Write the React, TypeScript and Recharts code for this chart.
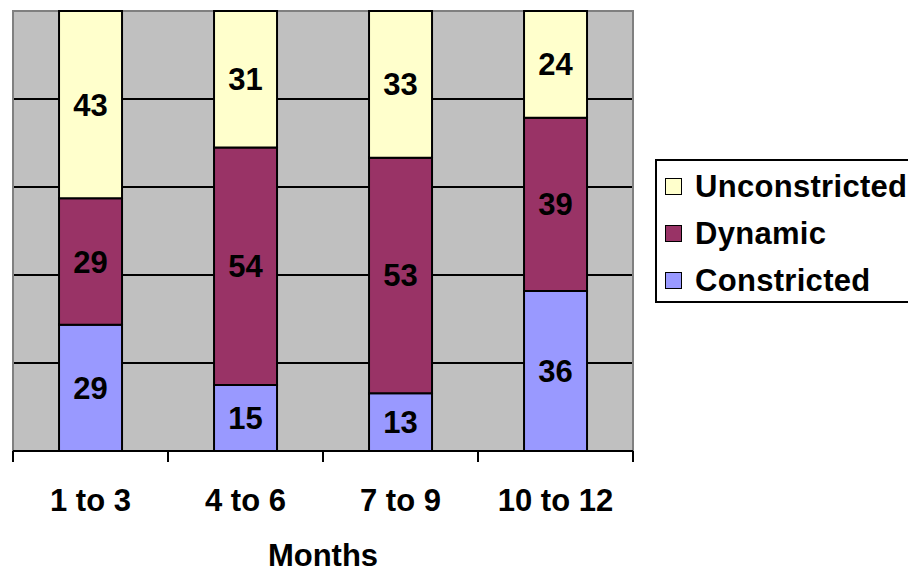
import React from 'react';
import { BarChart, Bar, XAxis, YAxis, CartesianGrid, LabelList, Legend, ReferenceArea } from 'recharts';

const categories = ['1 to 3', '4 to 6', '7 to 9', '10 to 12'];
const constricted = [29, 15, 13, 36];
const dynamic = [29, 54, 53, 39];
const unconstricted = [43, 31, 33, 24];
const gridValues = [0.2, 0.4, 0.6, 0.8];
const legendOrder = ['Unconstricted', 'Dynamic', 'Constricted'];
const colors: Record<string, string> = {
  Constricted: '#9999FF',
  Dynamic: '#993366',
  Unconstricted: '#FFFFCC',
};

const data = categories.map((c, i) => ({
  month: c,
  Constricted: constricted[i],
  Dynamic: dynamic[i],
  Unconstricted: unconstricted[i],
}));

const FONT = '"Liberation Sans", Arial, Helvetica, sans-serif';
const FS = 31;

function MonthTick(props: any) {
  const { x, y, payload, width, visibleTicksCount, index } = props;
  const count = visibleTicksCount || categories.length;
  const half = width && count ? width / count / 2 : 77.5;
  return (
    <g>
      <line x1={x - half} y1={y} x2={x - half} y2={y + 11} stroke="#000" strokeWidth={2} />
      {index === count - 1 && (
        <line x1={x + half} y1={y} x2={x + half} y2={y + 11} stroke="#000" strokeWidth={2} />
      )}
      <text
        x={x}
        y={y + 60}
        textAnchor="middle"
        fill="#000"
        fontSize={FS}
        fontWeight="bold"
        fontFamily={FONT}
      >
        {payload.value}
      </text>
    </g>
  );
}

function LegendBox() {
  return (
    <div
      style={{
        boxSizing: 'border-box',
        width: 253,
        height: 144,
        borderTop: '2px solid #000',
        borderBottom: '2px solid #000',
        borderLeft: '2px solid #000',
        borderRight: 'none',
        background: '#fff',
        paddingTop: 1.5,
        paddingLeft: 8,
        fontFamily: FONT,
        fontSize: FS,
        fontWeight: 'bold',
        color: '#000',
        overflow: 'visible',
      }}
    >
      {legendOrder.map((name) => (
        <div key={name} style={{ height: 47, display: 'flex', alignItems: 'center', whiteSpace: 'nowrap' }}>
          <span
            style={{
              display: 'inline-block',
              boxSizing: 'border-box',
              width: 17,
              height: 17,
              background: colors[name],
              border: '1.5px solid #000',
              marginRight: 13,
              flexShrink: 0,
            }}
          />
          <span style={{ lineHeight: '47px', letterSpacing: 0.3 }}>{name}</span>
        </div>
      ))}
    </div>
  );
}

const labelStyle = { fill: '#000', fontSize: FS, fontWeight: 'bold' as const, fontFamily: FONT };

export default function App() {
  return (
    <div style={{ position: 'absolute', left: 0, top: 0, width: 908, height: 569, overflow: 'hidden', background: '#fff' }}>
      <BarChart
        width={908}
        height={569}
        data={data}
        stackOffset="expand"
        barCategoryGap="29.7%"
        margin={{ top: 11, left: 13, right: 275, bottom: 0 }}
      >
        <CartesianGrid
          vertical={false}
          fill="#C0C0C0"
          fillOpacity={1}
          stroke="#000"
          strokeWidth={2}
          horizontalValues={gridValues}
        />
        <YAxis hide domain={[0, 1]} />
        <ReferenceArea y1={0} y2={1} fill="none" stroke="#808080" strokeWidth={2} ifOverflow="visible" />
        <Bar dataKey="Constricted" stackId="a" fill={colors.Constricted} stroke="#000" strokeWidth={2} isAnimationActive={false}>
          <LabelList dataKey="Constricted" position="center" {...labelStyle} />
        </Bar>
        <Bar dataKey="Dynamic" stackId="a" fill={colors.Dynamic} stroke="#000" strokeWidth={2} isAnimationActive={false}>
          <LabelList dataKey="Dynamic" position="center" {...labelStyle} />
        </Bar>
        <Bar dataKey="Unconstricted" stackId="a" fill={colors.Unconstricted} stroke="#000" strokeWidth={2} isAnimationActive={false}>
          <LabelList dataKey="Unconstricted" position="center" {...labelStyle} />
        </Bar>
        <XAxis
          dataKey="month"
          height={118}
          interval={0}
          axisLine={{ stroke: '#000', strokeWidth: 2 }}
          tickLine={false}
          tickSize={0}
          tickMargin={0}
          tick={<MonthTick />}
          label={{ value: 'Months', position: 'insideBottom', offset: 3, ...labelStyle }}
        />
        <Legend
          layout="vertical"
          align="center"
          verticalAlign="middle"
          wrapperStyle={{ left: 655, top: 159, width: 253, height: 144 }}
          content={() => <LegendBox />}
        />
      </BarChart>
    </div>
  );
}
